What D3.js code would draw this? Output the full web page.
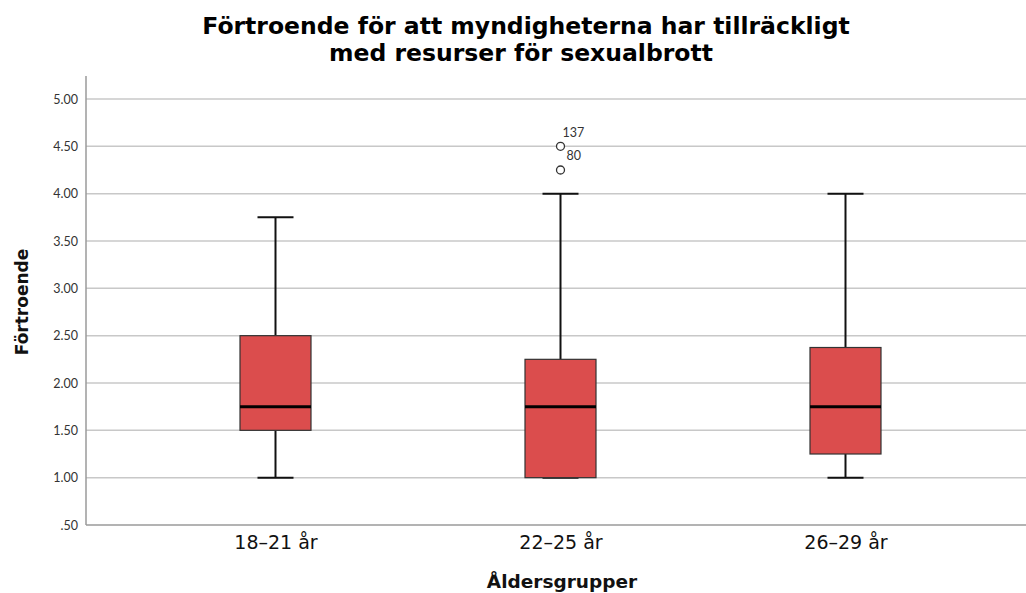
<!DOCTYPE html>
<html><head><meta charset="utf-8">
<script src="https://cdn.jsdelivr.net/npm/d3@7"></script>
<style>body{margin:0;background:#fff}svg{display:block}</style>
</head><body>
<svg id="c" width="1026" height="593"></svg>
<script>
const categories = ["18–21 år", "22–25 år", "26–29 år"];
const mins    = [1.00, 1.00, 1.00];
const q1s     = [1.50, 1.00, 1.25];
const medians = [1.75, 1.75, 1.75];
const q3s     = [2.50, 2.25, 2.375];
const maxs    = [3.75, 4.00, 4.00];
const outlierGroup = ["22–25 år", "22–25 år"];
const outlierValues = [4.50, 4.25];
const outlierLabels = ["137", "80"];
const yTicks = [0.5, 1, 1.5, 2, 2.5, 3, 3.5, 4, 4.5, 5];

(function () {
const svg = d3.select("#c");
const pL = 86, pR = 1026, pT = 76, pB = 525;
const y = d3.scaleLinear().domain([0.5, 5]).range([pB, 99]);
const x = d3.scalePoint().domain(categories).range([275.5, 845.5]);
const boxW = 71, capW = 36;

// grid
svg.append("g").selectAll("line").data(yTicks.filter(t => t > 0.5)).join("line")
  .attr("x1", pL).attr("x2", pR).attr("y1", d => y(d)).attr("y2", d => y(d))
  .attr("stroke", "#c8c8c8").attr("stroke-width", 1.5);

// y axis
const yAxis = d3.axisLeft(y).tickValues(yTicks).tickSize(0).tickPadding(8)
  .tickFormat(d => d < 1 ? d3.format(".2f")(d).replace(/^0/, "") : d3.format(".2f")(d));
const ga = svg.append("g").attr("transform", `translate(${pL},0)`).call(yAxis);
ga.select(".domain").remove();
ga.selectAll("text").attr("font-family", "Lato, 'DejaVu Sans', sans-serif").attr("font-size", 12.5).attr("fill", "#333");
svg.append("line").attr("x1", pL).attr("x2", pL).attr("y1", pT).attr("y2", pB)
  .attr("stroke", "#9a9a9a").attr("stroke-width", 1.5);
svg.append("line").attr("x1", pL).attr("x2", pR).attr("y1", pB).attr("y2", pB)
  .attr("stroke", "#9a9a9a").attr("stroke-width", 1.5);

// x axis labels
const xAxis = d3.axisBottom(x).tickSize(0).tickPadding(11);
const gx = svg.append("g").attr("transform", `translate(0,${pB})`).call(xAxis);
gx.select(".domain").remove();
gx.selectAll("text").attr("font-family", "'DejaVu Sans', sans-serif").attr("font-size", 19).attr("fill", "#111");

// boxes
const data = categories.map((c, i) => ({c, min: mins[i], q1: q1s[i], med: medians[i], q3: q3s[i], max: maxs[i]}));
const g = svg.append("g").selectAll("g").data(data).join("g");
g.append("line").attr("x1", d => x(d.c)).attr("x2", d => x(d.c))
  .attr("y1", d => y(d.max)).attr("y2", d => y(d.q3)).attr("stroke", "#111").attr("stroke-width", 2);
g.append("line").attr("x1", d => x(d.c)).attr("x2", d => x(d.c))
  .attr("y1", d => y(d.q1)).attr("y2", d => y(d.min)).attr("stroke", "#111").attr("stroke-width", 2);
g.append("line").attr("x1", d => x(d.c) - capW/2).attr("x2", d => x(d.c) + capW/2)
  .attr("y1", d => y(d.max)).attr("y2", d => y(d.max)).attr("stroke", "#111").attr("stroke-width", 2);
g.append("line").attr("x1", d => x(d.c) - capW/2).attr("x2", d => x(d.c) + capW/2)
  .attr("y1", d => y(d.min)).attr("y2", d => y(d.min)).attr("stroke", "#111").attr("stroke-width", 2);
g.append("rect").attr("x", d => x(d.c) - boxW/2).attr("width", boxW)
  .attr("y", d => y(d.q3)).attr("height", d => Math.max(1, y(d.q1) - y(d.q3)))
  .attr("fill", "#db4d4d").attr("stroke", "#333").attr("stroke-width", 1.2);
g.append("line").attr("x1", d => x(d.c) - boxW/2).attr("x2", d => x(d.c) + boxW/2)
  .attr("y1", d => y(d.med)).attr("y2", d => y(d.med)).attr("stroke", "#000").attr("stroke-width", 3);

// outliers
const outs = outlierValues.map((v, i) => ({c: outlierGroup[i], v, l: outlierLabels[i]}));
const go = svg.append("g").selectAll("g").data(outs).join("g");
go.append("circle").attr("cx", d => x(d.c)).attr("cy", d => y(d.v)).attr("r", 4)
  .attr("fill", "#fff").attr("stroke", "#333").attr("stroke-width", 1.3);
go.append("text").attr("x", d => x(d.c) + 2).attr("y", d => y(d.v) - 9).text(d => d.l)
  .attr("font-family", "Lato, 'DejaVu Sans', sans-serif").attr("font-size", 12.5).attr("fill", "#333")
  .attr("dx", (d, i) => i === 0 ? 0 : 4).attr("dy", (d, i) => i === 0 ? 0 : -1);

// titles
const tf = "'DejaVu Sans', sans-serif";
svg.append("text").attr("x", 526).attr("y", 34).attr("text-anchor", "middle")
  .attr("font-family", tf).attr("font-weight", "bold").attr("font-size", 23.5).attr("fill", "#000")
  .text("Förtroende för att myndigheterna har tillräckligt");
svg.append("text").attr("x", 521).attr("y", 61).attr("text-anchor", "middle")
  .attr("font-family", tf).attr("font-weight", "bold").attr("font-size", 23.5).attr("fill", "#000")
  .text("med resurser för sexualbrott");
svg.append("text").attr("x", 562).attr("y", 588).attr("text-anchor", "middle")
  .attr("font-family", tf).attr("font-weight", "bold").attr("font-size", 18.5).attr("fill", "#111")
  .text("Åldersgrupper");
svg.append("text").attr("transform", "translate(28,302) rotate(-90)").attr("text-anchor", "middle")
  .attr("font-family", tf).attr("font-weight", "bold").attr("font-size", 17).attr("fill", "#111")
  .text("Förtroende");
})();
</script>
</body></html>
